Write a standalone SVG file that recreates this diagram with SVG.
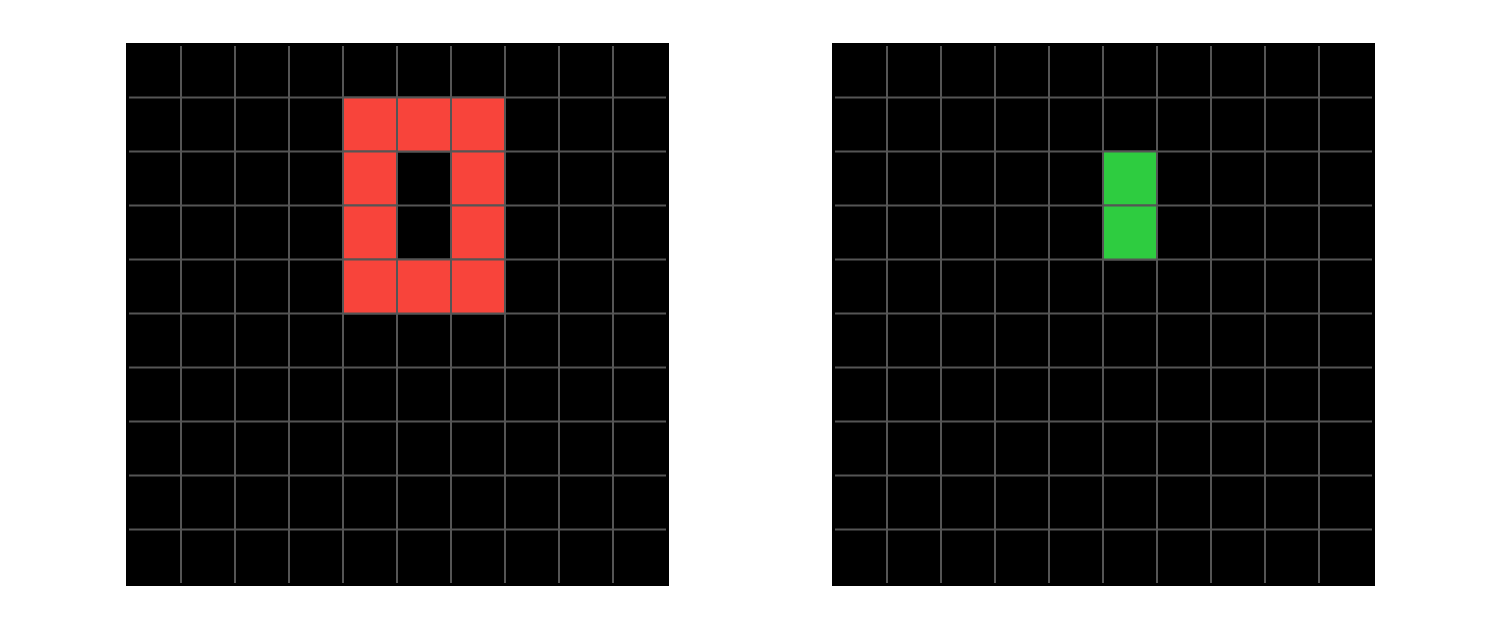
<svg xmlns="http://www.w3.org/2000/svg" width="1500" height="629" viewBox="0 0 1500 629">
<style>
.bg{fill:#000000}
.gl{stroke:#555555;stroke-width:2;fill:none}
.red{fill:#F8443B;stroke:#555555;stroke-width:2}
.green{fill:#2ECC40;stroke:#555555;stroke-width:2}
</style>
<rect width="1500" height="629" fill="#ffffff"/>
<g id="grid-left">
<rect class="bg" x="126" y="43" width="543" height="543"/>
<path class="gl" d="M181 46V583M235 46V583M289 46V583M343 46V583M397 46V583M451 46V583M505 46V583M559 46V583M613 46V583M129 97.5H666M129 151.5H666M129 205.5H666M129 259.5H666M129 313.5H666M129 367.5H666M129 421.5H666M129 475.5H666M129 529.5H666"/>
<rect class="red" x="343" y="97.5" width="54" height="54"/>
<rect class="red" x="397" y="97.5" width="54" height="54"/>
<rect class="red" x="451" y="97.5" width="54" height="54"/>
<rect class="red" x="343" y="151.5" width="54" height="54"/>
<rect class="red" x="451" y="151.5" width="54" height="54"/>
<rect class="red" x="343" y="205.5" width="54" height="54"/>
<rect class="red" x="451" y="205.5" width="54" height="54"/>
<rect class="red" x="343" y="259.5" width="54" height="54"/>
<rect class="red" x="397" y="259.5" width="54" height="54"/>
<rect class="red" x="451" y="259.5" width="54" height="54"/>
</g>
<g id="grid-right">
<rect class="bg" x="832" y="43" width="543" height="543"/>
<path class="gl" d="M887 46V583M941 46V583M995 46V583M1049 46V583M1103 46V583M1157 46V583M1211 46V583M1265 46V583M1319 46V583M835 97.5H1372M835 151.5H1372M835 205.5H1372M835 259.5H1372M835 313.5H1372M835 367.5H1372M835 421.5H1372M835 475.5H1372M835 529.5H1372"/>
<rect class="green" x="1103" y="151.5" width="54" height="54"/>
<rect class="green" x="1103" y="205.5" width="54" height="54"/>
</g>
<g id="connectors"></g>
</svg>
